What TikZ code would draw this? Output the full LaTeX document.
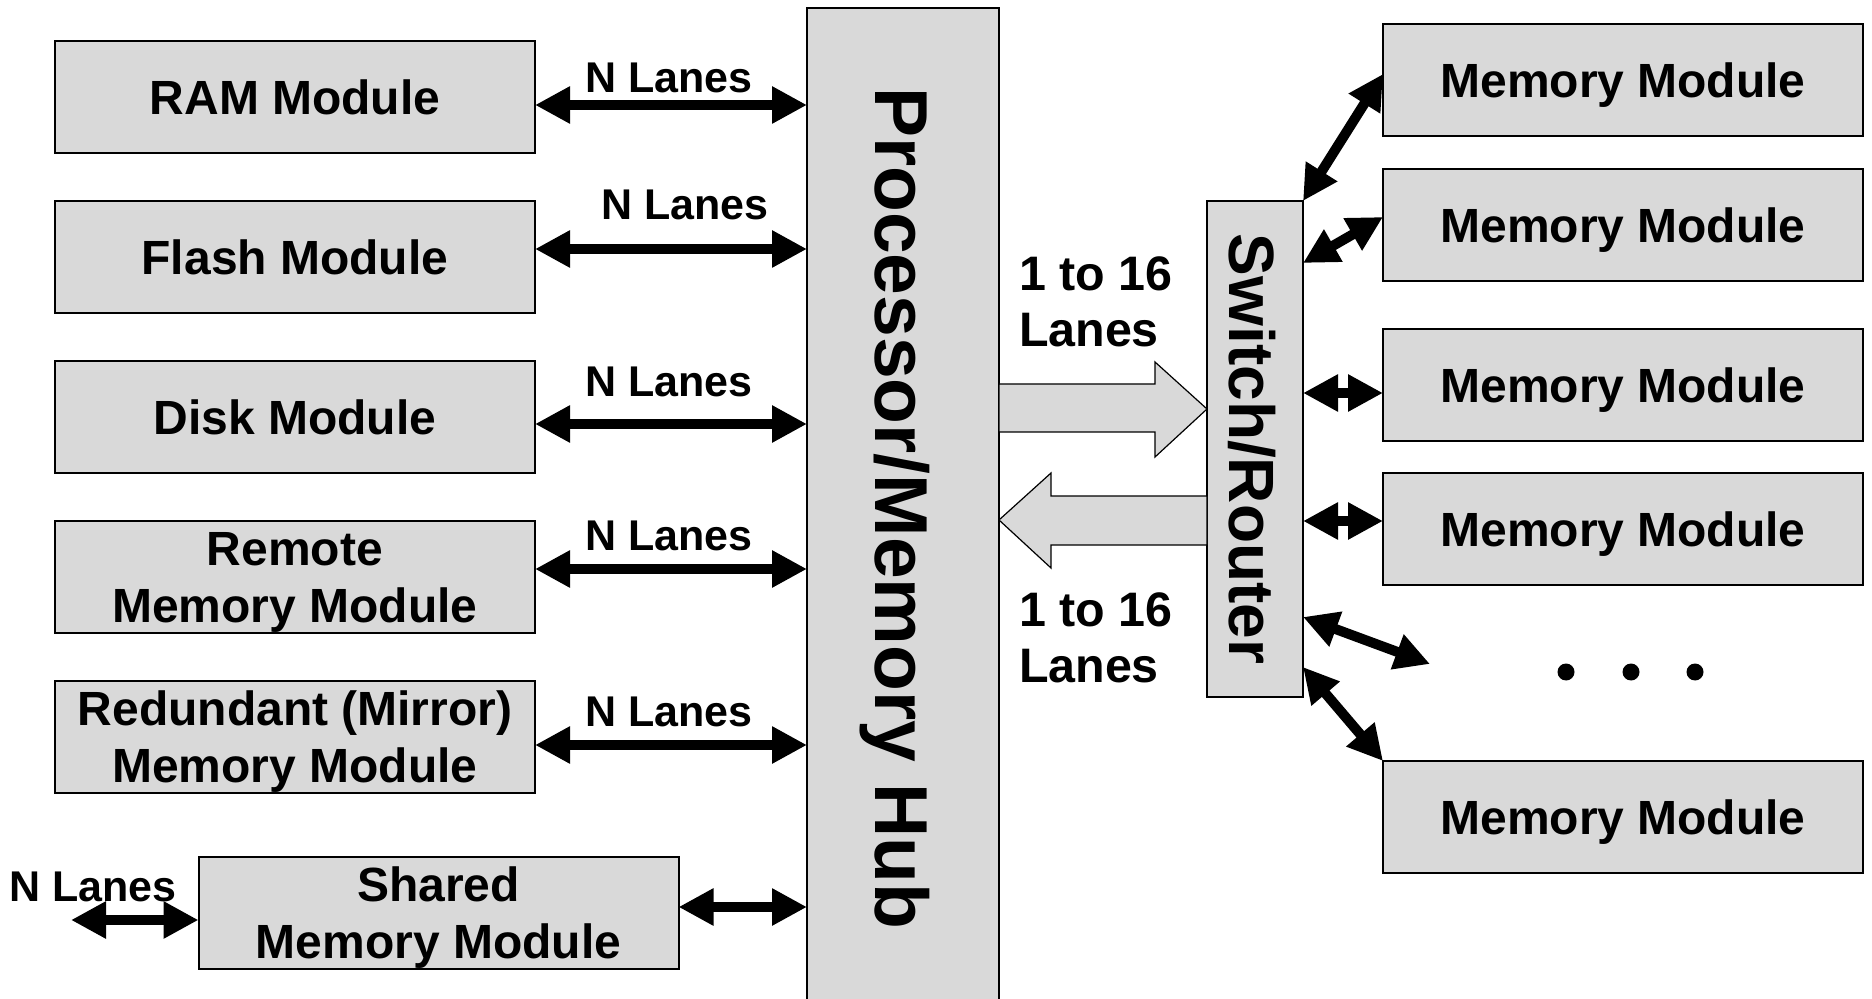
\documentclass[tikz,border=0pt]{standalone}
\usepackage{fontspec}
\setmainfont{Liberation Sans}
\usetikzlibrary{arrows.meta}
\definecolor{boxgray}{RGB}{217,217,217}
\begin{document}
\begin{tikzpicture}[x=0.5pt,y=-0.5pt,
  every node/.style={outer sep=0pt, inner sep=0pt, font=\bfseries},
  box/.style={draw, line width=1pt, fill=boxgray, minimum width=240pt, minimum height=56pt, align=center,
    text depth=0pt, font=\bfseries\fontsize{24pt}{28.5pt}\selectfont},
  hubbox/.style={draw, line width=1pt, fill=boxgray},
  lbl/.style={font=\bfseries\fontsize{21.5pt}{25pt}\selectfont},
  biglbl/.style={align=left, anchor=west, font=\bfseries\fontsize{24.2pt}{28pt}\selectfont},
  dbl/.style={line width=5pt, {Triangle[length=17.5pt,width=17.5pt]}-{Triangle[length=17.5pt,width=17.5pt]}},
  blk/.style={draw, line width=0.6pt, fill=boxgray, line join=miter},
  dot/.style={circle, fill=black, minimum size=8.5pt}
]
\useasboundingbox (0,0) rectangle (1872,999);
\clip (0,0) rectangle (1872,999);

% processor / memory hub
\node[hubbox, minimum width=96pt, minimum height=501pt] (hub) at (903,509) {};
\node[rotate=-90, anchor=base, font=\bfseries\fontsize{37.5pt}{44pt}\selectfont] (hubtxt) at (875,508) {Processor/Memory Hub};

% switch / router
\node[hubbox, minimum width=48pt, minimum height=248pt] (sw) at (1255,449) {};
\node[rotate=-90, anchor=base, font=\bfseries\fontsize{32pt}{38pt}\selectfont] (swtxt) at (1229,449) {Switch/Router};

% left modules
\node[box] (ram) at (295,97) {RAM Module};
\node[box] (flash) at (295,257) {Flash Module};
\node[box] (disk) at (295,417) {Disk Module};
\node[box] (remote) at (295,577) {Remote\\Memory Module};
\node[box] (mirror) at (295,737) {Redundant (Mirror)\\Memory Module};
\node[box] (shared) at (438.5,913) {Shared\\Memory Module};

% right modules
\node[box] (m1) at (1623,80) {Memory Module};
\node[box] (m2) at (1623,225.5) {Memory Module};
\node[box] (m3) at (1623,385) {Memory Module};
\node[box] (m4) at (1623,529) {Memory Module};
\node[box] (m6) at (1623,817) {Memory Module};

% dots
\node[dot] (d1) at (1566,672) {};
\node[dot] (d2) at (1631,672) {};
\node[dot] (d3) at (1695,672) {};

% left arrows
\draw[dbl] (ram.east |- 0,105) -- (hub.west |- 0,105);
\draw[dbl] (flash.east |- 0,249) -- (hub.west |- 0,249);
\draw[dbl] (disk.east |- 0,424) -- (hub.west |- 0,424);
\draw[dbl] (remote.east |- 0,569) -- (hub.west |- 0,569);
\draw[dbl] (mirror.east |- 0,745) -- (hub.west |- 0,745);
\draw[dbl] (shared.east |- 0,907) -- (hub.west |- 0,907);
\coordinate (e0) at (71,920);
\draw[dbl] (e0) -- (shared.west |- 0,920);

\node[lbl] (l1) at (669,78) {N Lanes};
\node[lbl] (l2) at (685,205) {N Lanes};
\node[lbl] (l3) at (669,382) {N Lanes};
\node[lbl] (l4) at (669,536) {N Lanes};
\node[lbl] (l5) at (669,712) {N Lanes};
\node[lbl] (l6) at (93,887) {N Lanes};

% block arrows
\draw[blk] (hub.east |- 0,384) -- (1155,384) -- (1155,362) -- (sw.west |- 0,409)
  -- (1155,457) -- (1155,432) -- (hub.east |- 0,432) -- cycle;
\draw[blk] (sw.west |- 0,496) -- (1051,496) -- (1051,473) -- (hub.east |- 0,520)
  -- (1051,568) -- (1051,545) -- (sw.west |- 0,545) -- cycle;
\node[biglbl] (t1) at (1019,302) {1 to 16\\Lanes};
\node[biglbl] (t2) at (1019,638) {1 to 16\\Lanes};

% right arrows
\draw[dbl] (sw.north east) -- (m1.west |- 0,74);
\draw[dbl] (sw.east |- 0,263) -- (m2.west |- 0,217);
\draw[dbl] (sw.east |- 0,393) -- (m3.west |- 0,393);
\draw[dbl] (sw.east |- 0,521) -- (m4.west |- 0,521);
\coordinate (e5) at (1430,664);
\draw[dbl] (sw.east |- 0,617) -- (e5);
\draw[dbl] (sw.east |- 0,667) -- (m6.north west);
\end{tikzpicture}
\end{document}
